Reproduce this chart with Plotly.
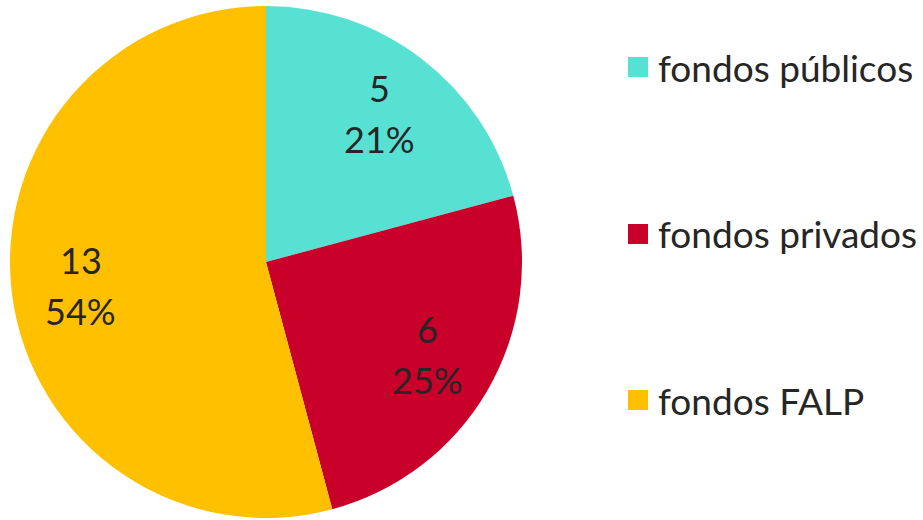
import math
import plotly.graph_objects as go

labels = ["fondos públicos", "fondos privados", "fondos FALP"]
values = [5, 6, 13]
colors = ["#57E1D2", "#C8002A", "#FFC000"]

W, H = 923, 520
cx, cy, R = 266, 262, 256
fig = go.Figure()
fig.add_trace(go.Pie(
    labels=labels, values=values, sort=False, direction="clockwise", rotation=0,
    marker=dict(colors=colors, line=dict(width=0)),
    textinfo="none", showlegend=False, hoverinfo="label+value+percent",
    domain=dict(x=[(cx - R) / W, (cx + R) / W], y=[1 - (cy + R) / H, 1 - (cy - R) / H]),
))

# data labels at mid-angle of each slice (Excel-style best fit)
total = sum(values)
cum = 0
for v in values:
    mid = (cum + v / 2) / total * 2 * math.pi
    cum += v
    px = cx + 0.73 * R * math.sin(mid)
    py = cy - 0.73 * R * math.cos(mid)
    pct = f"{round(v / total * 100)}%"
    for txt, dy in ((str(v), -26), (pct, 25)):
        fig.add_annotation(x=px / W, y=1 - (py + dy) / H, xref="paper", yref="paper",
                           text=txt, showarrow=False, xanchor="center", yanchor="middle",
                           font=dict(family="Lato", size=36, color="#262626"))

# legend drawn as squares + text
leg_y = [67, 234, 400]
for lab, col, yc in zip(labels, colors, leg_y):
    fig.add_shape(type="rect", xref="paper", yref="paper",
                  x0=628 / W, x1=648 / W, y0=1 - (yc + 10) / H, y1=1 - (yc - 10) / H,
                  fillcolor=col, line=dict(width=0))
    fig.add_annotation(x=656 / W, y=1 - yc / H, xref="paper", yref="paper",
                       text=lab, showarrow=False, xanchor="left", yanchor="middle",
                       font=dict(family="Lato", size=37, color="#262626"))

fig.update_layout(width=W, height=H, margin=dict(l=0, r=0, t=0, b=0),
                  paper_bgcolor="white", plot_bgcolor="white")
fig.write_html("out.html")
